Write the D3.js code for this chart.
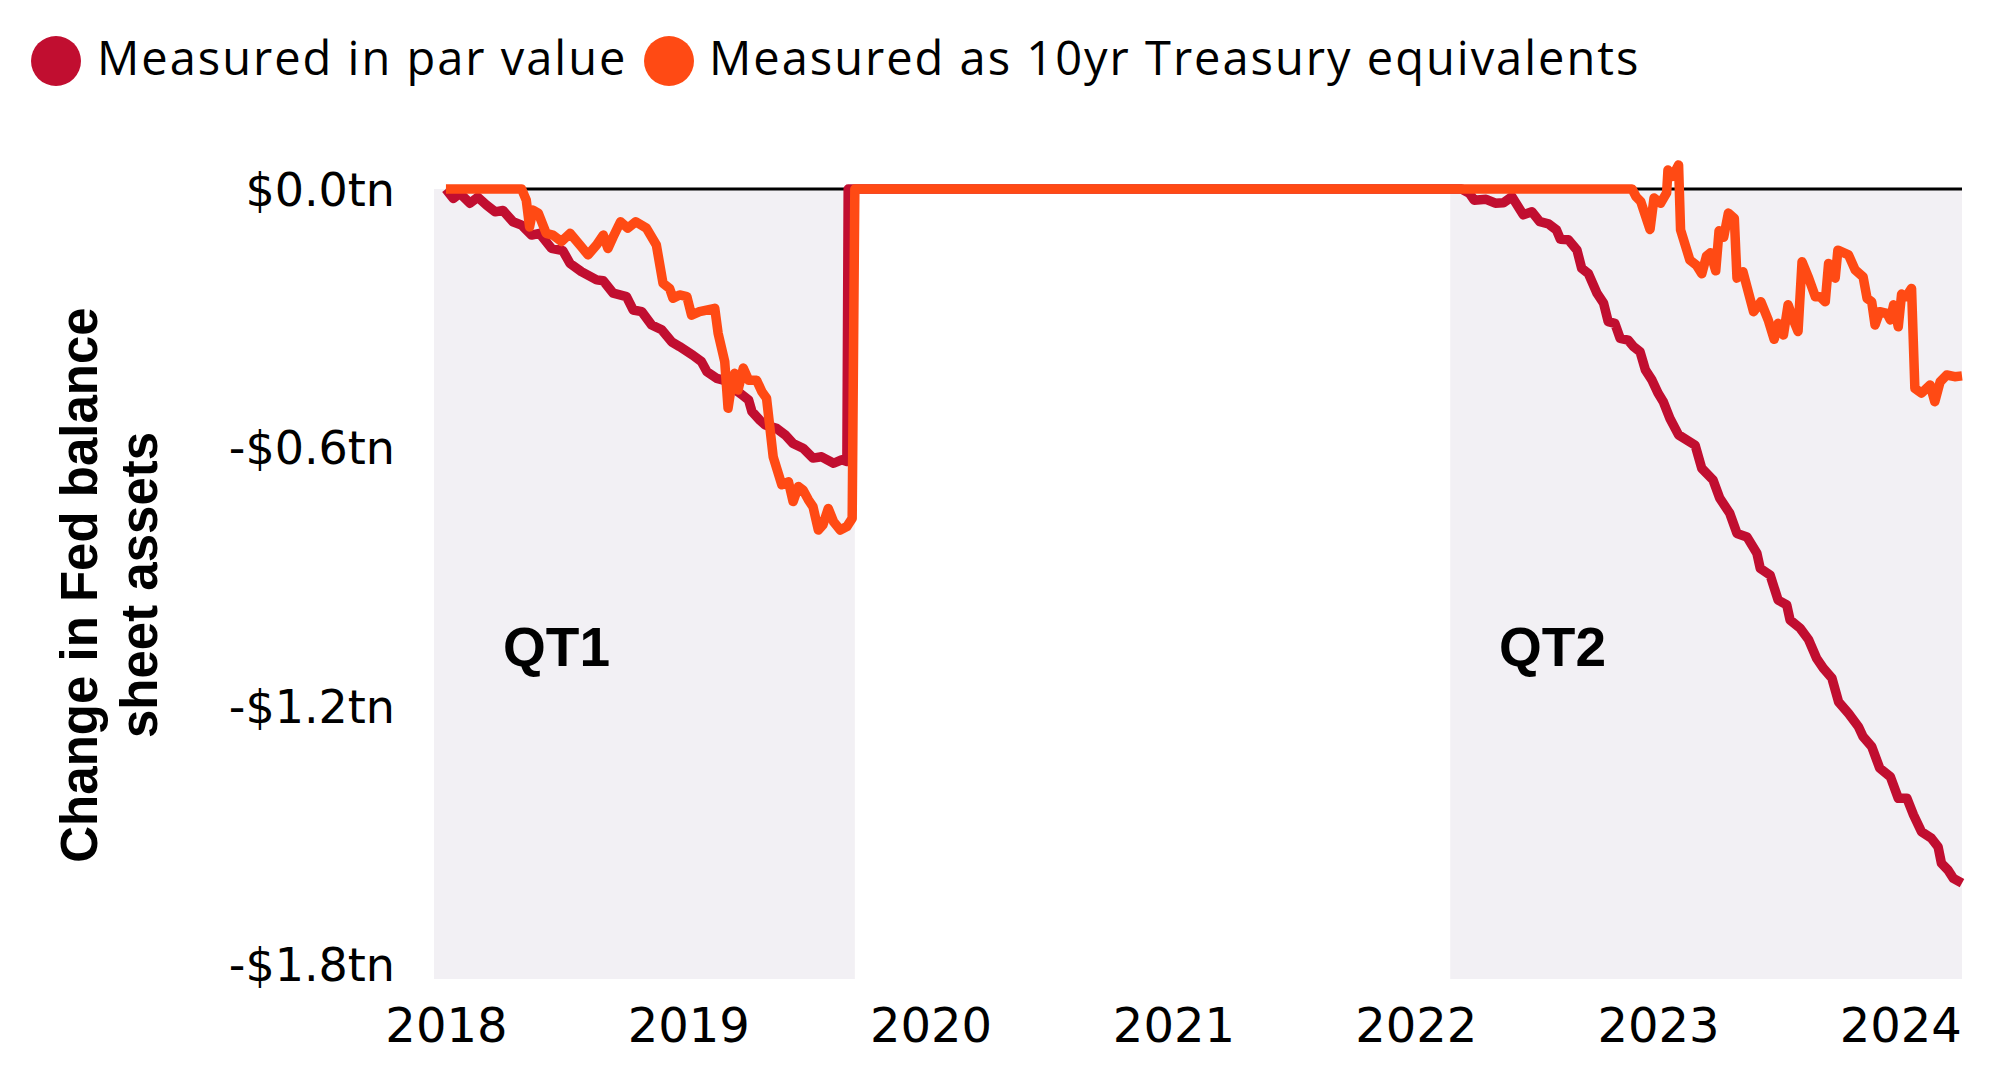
<!DOCTYPE html>
<html>
<head>
<meta charset="utf-8">
<script src="https://cdn.jsdelivr.net/npm/d3@7"></script>
<style>
  html, body { margin: 0; padding: 0; background: #ffffff; }
  svg { display: block; }
</style>
</head>
<body>
<svg id="chart" width="2011" height="1083"></svg>
<script>
// ---------------- DATA ----------------
const seriesNames = ["Measured in par value", "Measured as 10yr Treasury equivalents"];
const seriesColors = ["#c10e30", "#ff4a14"];

const yearTicks = ["2018", "2019", "2020", "2021", "2022", "2023", "2024"];
const valueTicks = [0, -0.6, -1.2, -1.8];
const valueTickLabels = ["$0.0tn", "-$0.6tn", "-$1.2tn", "-$1.8tn"];

const qtPeriods = [
  { label: "QT1", start: "2017-12-14", end: "2019-09-09" },
  { label: "QT2", start: "2022-02-22", end: "2024-04-03" }
];

// Change in Fed balance sheet assets, $tn, measured in par value
const parValue = [
  ["2018-01-01", 0], ["2018-01-12", -0.022], ["2018-01-22", -0.010], ["2018-02-06", -0.033],
  ["2018-02-18", -0.019], ["2018-03-03", -0.037], ["2018-03-16", -0.053], ["2018-03-28", -0.050],
  ["2018-04-12", -0.076], ["2018-04-25", -0.084], ["2018-05-10", -0.107], ["2018-05-22", -0.103],
  ["2018-06-09", -0.138], ["2018-06-26", -0.143], ["2018-07-07", -0.173], ["2018-07-24", -0.192],
  ["2018-08-16", -0.211], ["2018-08-26", -0.213], ["2018-09-10", -0.242], ["2018-09-30", -0.250],
  ["2018-10-10", -0.281], ["2018-10-23", -0.285], ["2018-11-07", -0.316], ["2018-11-22", -0.327],
  ["2018-12-07", -0.355], ["2018-12-19", -0.366], ["2019-01-08", -0.386], ["2019-01-21", -0.401],
  ["2019-01-29", -0.424], ["2019-02-13", -0.440], ["2019-02-23", -0.444], ["2019-03-10", -0.463],
  ["2019-03-23", -0.478], ["2019-04-02", -0.490], ["2019-04-07", -0.517], ["2019-04-19", -0.537],
  ["2019-04-27", -0.548], ["2019-05-14", -0.556], ["2019-05-27", -0.571], ["2019-06-08", -0.591],
  ["2019-06-23", -0.602], ["2019-07-08", -0.625], ["2019-07-21", -0.622], ["2019-08-08", -0.637],
  ["2019-08-20", -0.629], ["2019-08-28", -0.633], ["2019-08-30", 0],
  ["2022-03-11", 0], ["2022-03-23", -0.010], ["2022-03-30", -0.026], ["2022-04-17", -0.024],
  ["2022-05-01", -0.033], ["2022-05-13", -0.032], ["2022-05-26", -0.018], ["2022-06-12", -0.060],
  ["2022-06-25", -0.053], ["2022-07-07", -0.076], ["2022-07-20", -0.081], ["2022-08-01", -0.095],
  ["2022-08-07", -0.117], ["2022-08-19", -0.118], ["2022-09-01", -0.142], ["2022-09-08", -0.184],
  ["2022-09-18", -0.196], ["2022-10-01", -0.242], ["2022-10-11", -0.265], ["2022-10-18", -0.308],
  ["2022-10-28", -0.312], ["2022-11-05", -0.347], ["2022-11-17", -0.351], ["2022-11-25", -0.366],
  ["2022-12-05", -0.378], ["2022-12-13", -0.420], ["2022-12-23", -0.444], ["2023-01-01", -0.474],
  ["2023-01-09", -0.494], ["2023-01-19", -0.533], ["2023-02-01", -0.571], ["2023-02-26", -0.595],
  ["2023-03-08", -0.649], ["2023-03-25", -0.676], ["2023-04-04", -0.718], ["2023-04-19", -0.753],
  ["2023-04-30", -0.800], ["2023-05-15", -0.808], ["2023-05-30", -0.846], ["2023-06-04", -0.881],
  ["2023-06-19", -0.897], ["2023-07-01", -0.955], ["2023-07-14", -0.966], ["2023-07-19", -1.001],
  ["2023-08-03", -1.020], ["2023-08-16", -1.047], ["2023-08-28", -1.090], ["2023-09-07", -1.113],
  ["2023-09-20", -1.136], ["2023-09-30", -1.191], ["2023-10-15", -1.218], ["2023-10-30", -1.249],
  ["2023-11-06", -1.272], ["2023-11-19", -1.295], ["2023-12-01", -1.345], ["2023-12-17", -1.365],
  ["2023-12-29", -1.415], ["2024-01-11", -1.415], ["2024-01-21", -1.454], ["2024-02-02", -1.493],
  ["2024-02-17", -1.508], ["2024-02-27", -1.528], ["2024-03-03", -1.566], ["2024-03-13", -1.582],
  ["2024-03-21", -1.601], ["2024-04-03", -1.612]
];

// Change in Fed balance sheet assets, $tn, measured as 10yr Treasury equivalents
const treasuryEquiv = [
  ["2018-01-01", 0], ["2018-04-25", 0], ["2018-05-02", -0.026], ["2018-05-07", -0.088],
  ["2018-05-12", -0.049], ["2018-05-20", -0.056], ["2018-06-01", -0.103], ["2018-06-11", -0.107],
  ["2018-06-24", -0.122], ["2018-07-07", -0.103], ["2018-07-24", -0.134], ["2018-08-03", -0.153],
  ["2018-08-16", -0.130], ["2018-08-26", -0.107], ["2018-09-02", -0.138], ["2018-09-10", -0.111],
  ["2018-09-21", -0.076], ["2018-10-02", -0.091], ["2018-10-14", -0.076], ["2018-10-30", -0.091],
  ["2018-11-14", -0.130], ["2018-11-24", -0.219], ["2018-12-04", -0.231], ["2018-12-09", -0.254],
  ["2018-12-19", -0.246], ["2018-12-30", -0.250], ["2019-01-06", -0.293], ["2019-01-18", -0.285],
  ["2019-02-10", -0.277], ["2019-02-15", -0.335], ["2019-02-25", -0.401], ["2019-03-02", -0.509],
  ["2019-03-07", -0.459], ["2019-03-12", -0.428], ["2019-03-17", -0.467], ["2019-03-25", -0.416],
  ["2019-04-02", -0.444], ["2019-04-14", -0.444], ["2019-04-22", -0.471], ["2019-04-29", -0.486],
  ["2019-05-09", -0.622], ["2019-05-22", -0.687], ["2019-06-01", -0.680], ["2019-06-08", -0.726],
  ["2019-06-16", -0.691], ["2019-06-23", -0.699], ["2019-07-01", -0.722], ["2019-07-08", -0.738],
  ["2019-07-16", -0.792], ["2019-07-23", -0.780], ["2019-07-31", -0.742], ["2019-08-08", -0.773],
  ["2019-08-18", -0.792], ["2019-08-28", -0.784], ["2019-09-05", -0.765], ["2019-09-09", 0],
  ["2022-11-23", 0], ["2022-11-29", -0.018], ["2022-12-06", -0.029], ["2022-12-20", -0.094],
  ["2022-12-26", -0.021], ["2023-01-05", -0.033], ["2023-01-14", -0.009], ["2023-01-16", 0.044],
  ["2023-01-23", 0.029], ["2023-02-01", 0.056], ["2023-02-04", -0.095], ["2023-02-18", -0.165],
  ["2023-02-28", -0.177], ["2023-03-08", -0.197], ["2023-03-15", -0.156], ["2023-03-21", -0.148],
  ["2023-03-29", -0.190], ["2023-04-03", -0.097], ["2023-04-10", -0.112], ["2023-04-17", -0.056],
  ["2023-04-26", -0.068], ["2023-04-30", -0.207], ["2023-05-09", -0.192], ["2023-05-25", -0.285],
  ["2023-06-05", -0.262], ["2023-06-16", -0.304], ["2023-06-25", -0.349], ["2023-07-01", -0.312],
  ["2023-07-09", -0.339], ["2023-07-16", -0.269], ["2023-07-24", -0.304], ["2023-07-31", -0.331],
  ["2023-08-06", -0.169], ["2023-08-16", -0.207], ["2023-08-26", -0.250], ["2023-09-02", -0.250],
  ["2023-09-10", -0.262], ["2023-09-15", -0.173], ["2023-09-25", -0.207], ["2023-09-29", -0.142],
  ["2023-10-15", -0.153], ["2023-10-25", -0.188], ["2023-11-06", -0.204], ["2023-11-12", -0.254],
  ["2023-11-19", -0.262], ["2023-11-24", -0.316], ["2023-12-01", -0.285], ["2023-12-12", -0.289],
  ["2023-12-17", -0.304], ["2023-12-22", -0.269], ["2023-12-29", -0.320], ["2024-01-03", -0.244],
  ["2024-01-10", -0.250], ["2024-01-18", -0.231], ["2024-01-23", -0.463], ["2024-02-02", -0.474],
  ["2024-02-15", -0.455], ["2024-02-22", -0.494], ["2024-03-01", -0.448], ["2024-03-11", -0.432],
  ["2024-03-23", -0.436], ["2024-04-03", -0.434]
];

const xDomain = ["2017-12-14", "2024-04-03"];
const yDomain = [-1.8, 0];

// ---------------- LAYOUT ----------------
const parse = d3.timeParse("%Y-%m-%d");
const svg = d3.select("#chart");

const plot = { left: 434, right: 1962, zeroY: 189, tickBottomY: 964, bottom: 979 };

const x = d3.scaleTime().domain(xDomain.map(parse)).range([plot.left, plot.right]);
const y = d3.scaleLinear().domain(yDomain).range([plot.tickBottomY, plot.zeroY]);

// QT shaded bands
svg.append("g").selectAll("rect").data(qtPeriods).join("rect")
  .attr("x", d => x(parse(d.start)))
  .attr("width", d => x(parse(d.end)) - x(parse(d.start)))
  .attr("y", y(0))
  .attr("height", plot.bottom - y(0))
  .attr("fill", "#f2f0f4");

// QT labels
svg.append("g").selectAll("text").data(qtPeriods).join("text")
  .attr("x", (d, i) => i === 0 ? 503 : 1499)
  .attr("y", 666)
  .attr("font-family", "'Liberation Sans', Arial, sans-serif")
  .attr("font-weight", "bold")
  .attr("font-size", 55)
  .attr("fill", "#000")
  .text(d => d.label);

// zero line
svg.append("line")
  .attr("x1", x(parse("2018-01-01"))).attr("x2", plot.right)
  .attr("y1", y(0)).attr("y2", y(0))
  .attr("stroke", "#000").attr("stroke-width", 3);

// lines
const line = d3.line()
  .x(d => x(parse(d[0])))
  .y(d => y(d[1]))
  .curve(d3.curveLinear);

[parValue, treasuryEquiv].forEach((data, i) => {
  svg.append("path")
    .datum(data)
    .attr("d", line)
    .attr("fill", "none")
    .attr("stroke", seriesColors[i])
    .attr("stroke-width", 9.5)
    .attr("stroke-linejoin", "round")
    .attr("stroke-linecap", "butt");
});

// y axis
const yAxis = d3.axisLeft(y)
  .tickValues(valueTicks)
  .tickFormat((d, i) => valueTickLabels[i])
  .tickSize(0)
  .tickPadding(0);
const gy = svg.append("g").attr("transform", "translate(395,0)").call(yAxis);
gy.select(".domain").remove();
gy.selectAll("text")
  .attr("font-family", "'DejaVu Sans', sans-serif")
  .attr("font-size", 46)
  .attr("fill", "#000")
  .attr("dy", "0.36em");

// x axis
const xAxis = d3.axisBottom(x)
  .tickValues(yearTicks.map(t => parse(t + "-01-01")))
  .tickFormat(d3.timeFormat("%Y"))
  .tickSize(0)
  .tickPadding(0);
const gx = svg.append("g").attr("transform", "translate(0,1042)").call(xAxis);
gx.select(".domain").remove();
gx.selectAll("text")
  .attr("font-family", "'DejaVu Sans', sans-serif")
  .attr("font-size", 48)
  .attr("fill", "#000")
  .attr("y", 0)
  .attr("dy", 0);

// y axis title
const title = svg.append("text")
  .attr("transform", "translate(0,585) rotate(-90)")
  .attr("text-anchor", "middle")
  .attr("font-family", "'Liberation Sans', Arial, sans-serif")
  .attr("font-weight", "bold")
  .attr("font-size", 51)
  .attr("fill", "#000");
title.append("tspan").attr("x", 0).attr("y", 97).text("Change in Fed balance");
title.append("tspan").attr("x", 0).attr("y", 157).text("sheet assets");

// legend
const legendPos = [{ cx: 56, tx: 97 }, { cx: 669, tx: 709 }];
const lg = svg.append("g");
seriesNames.forEach((name, i) => {
  lg.append("circle")
    .attr("cx", legendPos[i].cx).attr("cy", 61).attr("r", 25)
    .attr("fill", seriesColors[i]);
  lg.append("text")
    .attr("x", legendPos[i].tx).attr("y", 75)
    .attr("font-family", "'Open Sans', sans-serif")
    .attr("font-size", 47)
    .attr("letter-spacing", 2)
    .attr("fill", "#000")
    .text(name);
});
</script>
</body>
</html>
